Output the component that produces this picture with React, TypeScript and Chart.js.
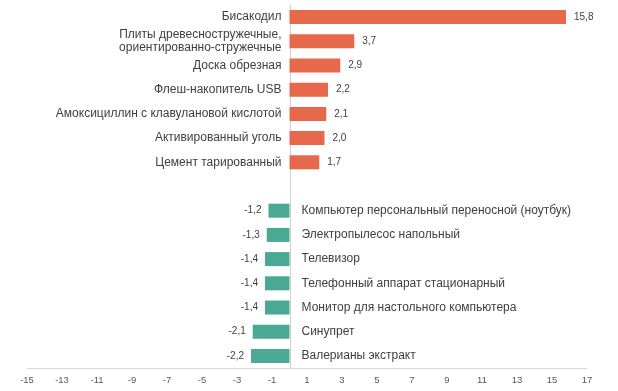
import React, { useEffect, useRef } from "react";
import { Chart, registerables } from "chart.js";

Chart.register(...registerables);

const categories: (string | string[])[] = [
  "Бисакодил",
  ["Плиты древесностружечные,", "ориентированно-стружечные"],
  "Доска обрезная",
  "Флеш-накопитель USB",
  "Амоксициллин с клавулановой кислотой",
  "Активированный уголь",
  "Цемент тарированный",
  "",
  "Компьютер персональный переносной (ноутбук)",
  "Электропылесос напольный",
  "Телевизор",
  "Телефонный аппарат стационарный",
  "Монитор для настольного компьютера",
  "Синупрет",
  "Валерианы экстракт",
];

const values: (number | null)[] = [
  15.8, 3.7, 2.9, 2.2, 2.1, 2.0, 1.7, null, -1.2, -1.3, -1.4, -1.4, -1.4, -2.1, -2.2,
];

const axisMin = -15;
const axisMax = 17;
const axisStep = 2;

const POS_COLOR = "#e5694a";
const NEG_COLOR = "#4aa993";
const TEXT_COLOR = "#404040";
const FONT = "'Liberation Sans', Arial, sans-serif";

const fmt = (v: number) => v.toFixed(1).replace(".", ",");

const labelPlugin = {
  id: "customLabels",
  beforeDatasetsDraw(chart: any) {
    const { ctx, chartArea, scales } = chart;
    const x0 = scales.x.getPixelForValue(0);
    ctx.save();
    ctx.strokeStyle = "#d0d0d0";
    ctx.lineWidth = 1;
    ctx.beginPath();
    ctx.moveTo(Math.round(x0) + 0.5, chartArea.top);
    ctx.lineTo(Math.round(x0) + 0.5, chartArea.bottom + 1);
    ctx.stroke();
    // x axis line
    ctx.strokeStyle = "#d9d9d9";
    ctx.beginPath();
    const yb = Math.round(chartArea.bottom) + 0.5;
    ctx.moveTo(scales.x.getPixelForValue(axisMin), yb);
    ctx.lineTo(scales.x.getPixelForValue(axisMax), yb);
    ctx.stroke();
    ctx.restore();
  },
  afterDatasetsDraw(chart: any) {
    const { ctx, scales } = chart;
    const meta = chart.getDatasetMeta(0);
    const x0 = scales.x.getPixelForValue(0);
    ctx.save();
    ctx.textBaseline = "middle";
    meta.data.forEach((bar: any, i: number) => {
      const v = values[i];
      if (v === null || v === undefined) return;
      const y = bar.y;
      const lab = categories[i];
      const lines = Array.isArray(lab) ? lab : [lab];
      const lh = 13.5;
      ctx.fillStyle = TEXT_COLOR;
      ctx.font = `12px ${FONT}`;
      if (v >= 0) {
        ctx.textAlign = "right";
        lines.forEach((ln, k) => {
          ctx.fillText(ln, x0 - 8, y + (k - (lines.length - 1) / 2) * lh);
        });
        ctx.font = `10px ${FONT}`;
        ctx.textAlign = "left";
        ctx.fillText(fmt(v), bar.x + 8, y);
      } else {
        ctx.textAlign = "left";
        lines.forEach((ln, k) => {
          ctx.fillText(ln, x0 + 12, y + (k - (lines.length - 1) / 2) * lh);
        });
        ctx.font = `10px ${FONT}`;
        ctx.textAlign = "right";
        ctx.fillText(fmt(v), bar.x - 7, y);
      }
    });
    ctx.restore();
  },
};

export default function App() {
  const ref = useRef<HTMLCanvasElement | null>(null);
  useEffect(() => {
    if (!ref.current) return;
    const chart = new Chart(ref.current, {
      type: "bar",
      data: {
        labels: categories.map((c) => (Array.isArray(c) ? c.join(" ") : c)),
        datasets: [
          {
            data: values as any,
            backgroundColor: values.map((v) => ((v ?? 0) >= 0 ? POS_COLOR : NEG_COLOR)),
            borderWidth: 0,
            categoryPercentage: 1,
            barPercentage: 0.58,
          },
        ],
      },
      options: {
        indexAxis: "y",
        animation: false,
        responsive: false,
        maintainAspectRatio: false,
        layout: { padding: { left: 27, right: 31, top: 5, bottom: 0 } },
        plugins: {
          legend: { display: false },
          tooltip: { enabled: false },
        },
        scales: {
          y: { display: false },
          x: {
            type: "linear",
            min: axisMin,
            max: axisMax,
            ticks: {
              stepSize: axisStep,
              color: "#595959",
              font: { family: FONT, size: 9.5 },
              padding: 7,
              maxRotation: 0,
              autoSkip: false,
            },
            grid: { display: true, drawOnChartArea: false, drawTicks: false },
            border: { display: false },
            afterFit: (scale: any) => {
              scale.height = 23;
            },
          },
        },
      },
      plugins: [labelPlugin],
    });
    return () => chart.destroy();
  }, []);
  return (
    <div style={{ position: "fixed", left: 0, top: 0, width: 618, height: 391, background: "#fff" }}>
      <canvas ref={ref} width={618} height={391} style={{ width: 618, height: 391 }} />
    </div>
  );
}
